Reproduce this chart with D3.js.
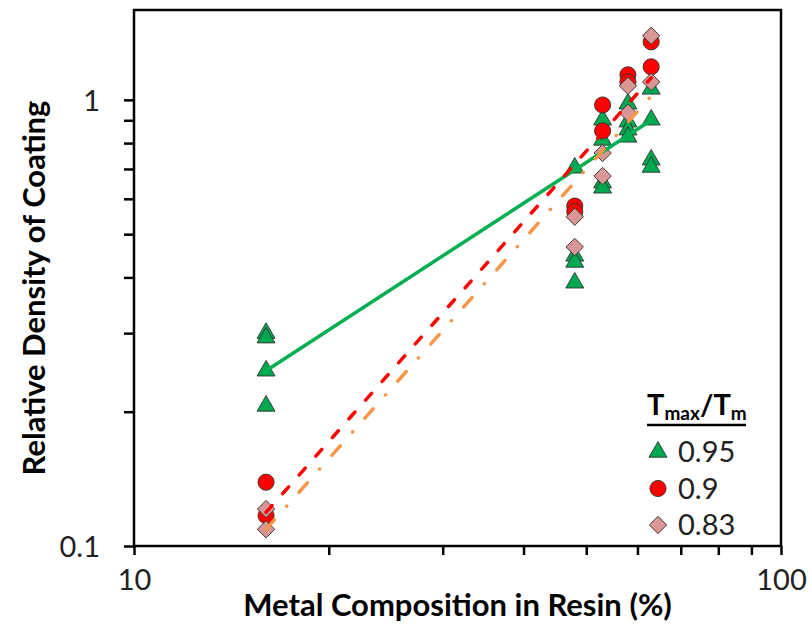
<!DOCTYPE html>
<html>
<head>
<meta charset="utf-8">
<script src="https://cdn.jsdelivr.net/npm/d3@7"></script>
<style>
  body { margin: 0; background: #fff; }
  svg { display: block; font-family: Lato, 'Open Sans', sans-serif; }
</style>
</head>
<body>
<svg width="811" height="628"></svg>
<script>
// metal composition columns (%)
const compositions = [16, 48, 53, 58, 63];

// relative density per column, one list per Tmax/Tm ratio
const density095 = [
  [0.300, 0.293, 0.247, 0.206],
  [0.704, 0.447, 0.433, 0.389],
  [0.902, 0.813, 0.652, 0.635],
  [0.980, 0.893, 0.857, 0.826],
  [1.058, 0.902, 0.734, 0.707]
];
const density090 = [
  [0.139, 0.117],
  [0.578, 0.562],
  [0.974, 0.852],
  [1.138, 1.097],
  [1.349, 1.186]
];
const density083 = [
  [0.121, 0.109],
  [0.547, 0.468],
  [0.760, 0.675],
  [1.075, 0.935],
  [1.392, 1.097]
];

// power-law trendlines, read at the ends
const trendX = [16, 63];
const trend095 = [0.247, 0.90];
const trend090 = [0.119, 1.12];
const trend083 = [0.109, 1.02];

const seriesNames = ['0.95', '0.9', '0.83'];

const xTickValues = [10, 20, 30, 40, 50, 60, 70, 80, 90, 100];
const xTickLabels = [10, 100];
const yTickValues = [0.1, 0.2, 0.3, 0.4, 0.5, 0.6, 0.7, 0.8, 0.9, 1];
const yTickLabels = [0.1, 1];

const svg = d3.select('svg');
const margin = { top: 10, right: 30, bottom: 82, left: 134 };
const width = +svg.attr('width');
const height = +svg.attr('height');
const innerWidth = width - margin.left - margin.right;
const innerHeight = height - margin.top - margin.bottom;

const xScale = d3.scaleLog()
  .domain([10, 100])
  .range([0, innerWidth]);

const yScale = d3.scaleLog()
  .domain([0.1, 1.59])
  .range([innerHeight, 0]);

const g = svg.append('g')
  .attr('transform', `translate(${margin.left},${margin.top})`);

/* axes */
const xAxis = d3.axisBottom(xScale)
  .tickValues(xTickValues)
  .tickSize(9)
  .tickFormat(d => d);

const yAxis = d3.axisLeft(yScale)
  .tickValues(yTickValues)
  .tickSize(10)
  .tickFormat(d => d);

g.append('g')
  .attr('transform', `translate(0,${innerHeight})`)
  .call(xAxis)
  .call(a => a.select('.domain').remove())
  .call(a => a.selectAll('line').attr('stroke', '#000').attr('stroke-width', 2.5))
  .call(a => a.selectAll('text').filter(d => !xTickLabels.includes(d)).remove())
  .call(a => a.selectAll('text')
    .attr('y', 44).attr('dy', 0)
    .attr('fill', '#222')
    .attr('font-size', 29)
    .attr('font-family', 'Lato'));

g.append('g')
  .call(yAxis)
  .call(a => a.select('.domain').remove())
  .call(a => a.selectAll('line').attr('stroke', '#000').attr('stroke-width', 2.5))
  .call(a => a.selectAll('text').filter(d => !yTickLabels.includes(d)).remove())
  .call(a => a.selectAll('text')
    .attr('x', -34).attr('dy', '0.36em')
    .attr('fill', '#222')
    .attr('font-size', 29)
    .attr('font-family', 'Lato'));

g.append('rect')
  .attr('width', innerWidth)
  .attr('height', innerHeight)
  .attr('fill', 'none')
  .attr('stroke', '#000')
  .attr('stroke-width', 2.5);

/* axis titles */
svg.append('text')
  .attr('x', margin.left + innerWidth / 2)
  .attr('y', 616)
  .attr('text-anchor', 'middle')
  .attr('font-size', 31)
  .attr('font-weight', 'bold')
  .attr('fill', '#000')
  .text('Metal Composition in Resin (%)');

svg.append('text')
  .attr('transform', `translate(45,${margin.top + innerHeight / 2 + 10}) rotate(-90)`)
  .attr('text-anchor', 'middle')
  .attr('font-size', 31)
  .attr('font-weight', 'bold')
  .attr('fill', '#000')
  .text('Relative Density of Coating');

/* markers */
const symbols = [
  { type: d3.symbolTriangle, size: 140, fill: '#00A84F', rotate: 0 },
  { type: d3.symbolCircle, size: 205, fill: '#FF0000', rotate: 0 },
  { type: d3.symbolSquare, size: 150, fill: '#D99694', rotate: 45 }
];

const flatten = values => values.flatMap((col, i) =>
  col.map(v => ({ x: compositions[i], y: v })));

const allSeries = [density095, density090, density083].map(flatten);

allSeries.forEach((points, si) => {
  const s = symbols[si];
  g.append('g')
    .selectAll('path')
    .data(points)
    .join('path')
      .attr('d', d3.symbol().type(s.type).size(s.size))
      .attr('transform', d =>
        `translate(${xScale(d.x)},${yScale(d.y)}) rotate(${s.rotate})`)
      .attr('fill', s.fill)
      .attr('stroke', '#333')
      .attr('stroke-width', 0.9);
});

/* trendlines */
const line = d3.line()
  .x(d => xScale(d[0]))
  .y(d => yScale(d[1]));

const trends = [
  { values: trend095, color: '#00B050', dash: null },
  { values: trend090, color: '#FF0000', dash: '9,16' },
  { values: trend083, color: '#F79646', dash: '12.5,18.5,0.1,18.5' }
];

trends.forEach(t => {
  g.append('path')
    .datum(trendX.map((x, i) => [x, t.values[i]]))
    .attr('d', line)
    .attr('fill', 'none')
    .attr('stroke', t.color)
    .attr('stroke-width', 3.5)
    .attr('stroke-linecap', 'round')
    .attr('stroke-dasharray', t.dash);
});

/* legend */
const legend = svg.append('g')
  .attr('transform', 'translate(647,0)');

const legendTitle = legend.append('text')
  .attr('x', 0)
  .attr('y', 415)
  .attr('font-weight', 'bold')
  .attr('font-size', 29)
  .attr('fill', '#000');
legendTitle.append('tspan').text('T');
legendTitle.append('tspan').attr('font-size', 19).attr('dy', 5).text('max');
legendTitle.append('tspan').attr('dy', -5).text('/T');
legendTitle.append('tspan').attr('font-size', 19).attr('dy', 5).text('m');

legend.append('line')
  .attr('x1', 0)
  .attr('x2', 99)
  .attr('y1', 425)
  .attr('y2', 425)
  .attr('stroke', '#000')
  .attr('stroke-width', 2.5);

const legendItems = legend.selectAll('g.item')
  .data(seriesNames)
  .join('g')
    .attr('class', 'item')
    .attr('transform', (d, i) => `translate(11,${452 + i * 36.5})`);

legendItems.append('path')
  .attr('d', (d, i) => d3.symbol().type(symbols[i].type).size(symbols[i].size)())
  .attr('transform', (d, i) => `rotate(${symbols[i].rotate})`)
  .attr('fill', (d, i) => symbols[i].fill)
  .attr('stroke', '#333')
  .attr('stroke-width', 0.9);

legendItems.append('text')
  .attr('x', 20)
  .attr('y', 10)
  .attr('font-size', 29)
  .attr('fill', '#222')
  .text(d => d);
</script>
</body>
</html>
